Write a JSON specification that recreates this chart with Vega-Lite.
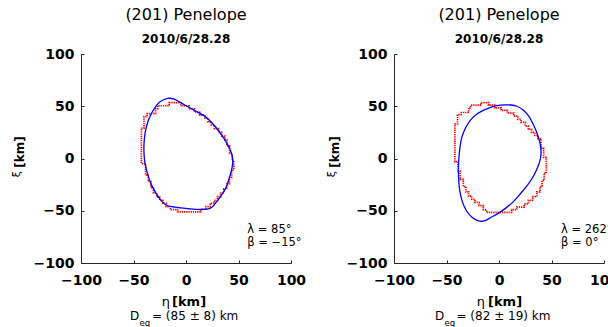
{
  "$schema": "https://vega.github.io/schema/vega-lite/v6.json",
  "background": "white",
  "padding": {"left": 10, "top": 6, "right": 0, "bottom": 0},
  "autosize": {"type": "pad"},
  "config": {
    "font": "DejaVu Sans",
    "view": {"stroke": null},
    "axis": {
      "grid": false,
      "domainColor": "#262626",
      "domainWidth": 1,
      "tickColor": "#262626",
      "tickWidth": 1,
      "tickSize": -3,
      "labelFont": "DejaVu Sans",
      "labelFontSize": 14,
      "labelFontWeight": "bold",
      "labelColor": "#000000",
      "labelOverlap": false
    },
    "title": {
      "font": "DejaVu Sans",
      "fontSize": 16,
      "fontWeight": "normal",
      "color": "#000000",
      "subtitleFont": "DejaVu Sans",
      "subtitleFontSize": 12,
      "subtitleFontWeight": "bold",
      "subtitleColor": "#000000",
      "subtitlePadding": 11,
      "offset": 2.5,
      "anchor": "middle"
    },
    "text": {"font": "DejaVu Sans", "color": "#000000"}
  },
  "datasets": {
    "fit": [
      {"p": 1, "i": 0, "x": -17.5, "y": 57.5}, {"p": 1, "i": 1, "x": -12, "y": 57}, {"p": 1, "i": 2, "x": -6, "y": 54},
      {"p": 1, "i": 3, "x": 0, "y": 50.5}, {"p": 1, "i": 4, "x": 8, "y": 46}, {"p": 1, "i": 5, "x": 17, "y": 41},
      {"p": 1, "i": 6, "x": 24, "y": 35}, {"p": 1, "i": 7, "x": 30, "y": 28}, {"p": 1, "i": 8, "x": 35, "y": 21},
      {"p": 1, "i": 9, "x": 39.5, "y": 13.5}, {"p": 1, "i": 10, "x": 43, "y": 6}, {"p": 1, "i": 11, "x": 44.5, "y": -1},
      {"p": 1, "i": 12, "x": 44, "y": -8}, {"p": 1, "i": 13, "x": 41.5, "y": -18}, {"p": 1, "i": 14, "x": 38, "y": -28},
      {"p": 1, "i": 15, "x": 33.5, "y": -35.5}, {"p": 1, "i": 16, "x": 29, "y": -41.5}, {"p": 1, "i": 17, "x": 25, "y": -46.5},
      {"p": 1, "i": 18, "x": 20, "y": -48.5}, {"p": 1, "i": 19, "x": 10, "y": -48.7}, {"p": 1, "i": 20, "x": 0, "y": -47.8},
      {"p": 1, "i": 21, "x": -10, "y": -46.5}, {"p": 1, "i": 22, "x": -18, "y": -45}, {"p": 1, "i": 23, "x": -23, "y": -41},
      {"p": 1, "i": 24, "x": -28, "y": -34}, {"p": 1, "i": 25, "x": -33, "y": -25}, {"p": 1, "i": 26, "x": -36.5, "y": -15},
      {"p": 1, "i": 27, "x": -39, "y": -5}, {"p": 1, "i": 28, "x": -40, "y": 5}, {"p": 1, "i": 29, "x": -40, "y": 14},
      {"p": 1, "i": 30, "x": -39, "y": 24}, {"p": 1, "i": 31, "x": -37, "y": 33}, {"p": 1, "i": 32, "x": -34, "y": 41},
      {"p": 1, "i": 33, "x": -30, "y": 48}, {"p": 1, "i": 34, "x": -25, "y": 54},
      {"p": 2, "i": 0, "x": -2, "y": 50.5}, {"p": 2, "i": 1, "x": 5, "y": 51.3}, {"p": 2, "i": 2, "x": 11, "y": 51.2},
      {"p": 2, "i": 3, "x": 17, "y": 50}, {"p": 2, "i": 4, "x": 23, "y": 46.5}, {"p": 2, "i": 5, "x": 28, "y": 41},
      {"p": 2, "i": 6, "x": 32, "y": 34}, {"p": 2, "i": 7, "x": 35.5, "y": 26}, {"p": 2, "i": 8, "x": 38.5, "y": 17},
      {"p": 2, "i": 9, "x": 40, "y": 8}, {"p": 2, "i": 10, "x": 39.5, "y": 0}, {"p": 2, "i": 11, "x": 37, "y": -8},
      {"p": 2, "i": 12, "x": 33, "y": -16.5}, {"p": 2, "i": 13, "x": 27.5, "y": -25}, {"p": 2, "i": 14, "x": 21, "y": -33},
      {"p": 2, "i": 15, "x": 14, "y": -41}, {"p": 2, "i": 16, "x": 7, "y": -47}, {"p": 2, "i": 17, "x": 0, "y": -52},
      {"p": 2, "i": 18, "x": -7, "y": -56}, {"p": 2, "i": 19, "x": -14, "y": -59.7}, {"p": 2, "i": 20, "x": -20, "y": -59.5},
      {"p": 2, "i": 21, "x": -26, "y": -56}, {"p": 2, "i": 22, "x": -31, "y": -50}, {"p": 2, "i": 23, "x": -35, "y": -41},
      {"p": 2, "i": 24, "x": -37.5, "y": -30}, {"p": 2, "i": 25, "x": -38.5, "y": -18}, {"p": 2, "i": 26, "x": -38.5, "y": -5},
      {"p": 2, "i": 27, "x": -37.5, "y": 8}, {"p": 2, "i": 28, "x": -35.5, "y": 20}, {"p": 2, "i": 29, "x": -32, "y": 29},
      {"p": 2, "i": 30, "x": -27, "y": 37}, {"p": 2, "i": 31, "x": -21, "y": 42.5}, {"p": 2, "i": 32, "x": -14, "y": 46.5},
      {"p": 2, "i": 33, "x": -8, "y": 49}
    ],
    "occ": [
      {"p": 1, "i": 0, "x": -16, "y": 53.5}, {"p": 1, "i": 1, "x": -5, "y": 53.5}, {"p": 1, "i": 2, "x": -5, "y": 50.5},
      {"p": 1, "i": 3, "x": 3, "y": 50.5}, {"p": 1, "i": 4, "x": 3, "y": 47.5}, {"p": 1, "i": 5, "x": 8, "y": 47.5},
      {"p": 1, "i": 6, "x": 8, "y": 44.5}, {"p": 1, "i": 7, "x": 13, "y": 44.5}, {"p": 1, "i": 8, "x": 13, "y": 41.5},
      {"p": 1, "i": 9, "x": 18, "y": 41.5}, {"p": 1, "i": 10, "x": 18, "y": 38.5}, {"p": 1, "i": 11, "x": 21, "y": 38.5},
      {"p": 1, "i": 12, "x": 21, "y": 35}, {"p": 1, "i": 13, "x": 24, "y": 35}, {"p": 1, "i": 14, "x": 24, "y": 32},
      {"p": 1, "i": 15, "x": 27, "y": 32}, {"p": 1, "i": 16, "x": 27, "y": 28.5}, {"p": 1, "i": 17, "x": 31, "y": 28.5},
      {"p": 1, "i": 18, "x": 31, "y": 25}, {"p": 1, "i": 19, "x": 34, "y": 25}, {"p": 1, "i": 20, "x": 34, "y": 21.5},
      {"p": 1, "i": 21, "x": 37, "y": 21.5}, {"p": 1, "i": 22, "x": 37, "y": 18}, {"p": 1, "i": 23, "x": 39, "y": 18},
      {"p": 1, "i": 24, "x": 39, "y": 12}, {"p": 1, "i": 25, "x": 41.5, "y": 12}, {"p": 1, "i": 26, "x": 41.5, "y": 5},
      {"p": 1, "i": 27, "x": 44, "y": 5}, {"p": 1, "i": 28, "x": 44, "y": -2}, {"p": 1, "i": 29, "x": 45.5, "y": -2},
      {"p": 1, "i": 30, "x": 45.5, "y": -11}, {"p": 1, "i": 31, "x": 43.5, "y": -11}, {"p": 1, "i": 32, "x": 43.5, "y": -18},
      {"p": 1, "i": 33, "x": 41.5, "y": -18}, {"p": 1, "i": 34, "x": 41.5, "y": -24}, {"p": 1, "i": 35, "x": 39, "y": -24},
      {"p": 1, "i": 36, "x": 39, "y": -29}, {"p": 1, "i": 37, "x": 36, "y": -29}, {"p": 1, "i": 38, "x": 36, "y": -33},
      {"p": 1, "i": 39, "x": 33, "y": -33}, {"p": 1, "i": 40, "x": 33, "y": -36.5}, {"p": 1, "i": 41, "x": 30, "y": -36.5},
      {"p": 1, "i": 42, "x": 30, "y": -40}, {"p": 1, "i": 43, "x": 27, "y": -40}, {"p": 1, "i": 44, "x": 27, "y": -43},
      {"p": 1, "i": 45, "x": 23, "y": -43}, {"p": 1, "i": 46, "x": 23, "y": -46}, {"p": 1, "i": 47, "x": 19, "y": -46},
      {"p": 1, "i": 48, "x": 19, "y": -48.5}, {"p": 1, "i": 49, "x": 14, "y": -48.5}, {"p": 1, "i": 50, "x": 14, "y": -51},
      {"p": 1, "i": 51, "x": -8, "y": -51}, {"p": 1, "i": 52, "x": -8, "y": -49}, {"p": 1, "i": 53, "x": -15, "y": -49},
      {"p": 1, "i": 54, "x": -15, "y": -46}, {"p": 1, "i": 55, "x": -19, "y": -46}, {"p": 1, "i": 56, "x": -19, "y": -43},
      {"p": 1, "i": 57, "x": -22, "y": -43}, {"p": 1, "i": 58, "x": -22, "y": -40}, {"p": 1, "i": 59, "x": -25, "y": -40},
      {"p": 1, "i": 60, "x": -25, "y": -37}, {"p": 1, "i": 61, "x": -28, "y": -37}, {"p": 1, "i": 62, "x": -28, "y": -33},
      {"p": 1, "i": 63, "x": -31, "y": -33}, {"p": 1, "i": 64, "x": -31, "y": -28}, {"p": 1, "i": 65, "x": -33.5, "y": -28},
      {"p": 1, "i": 66, "x": -33.5, "y": -22}, {"p": 1, "i": 67, "x": -36, "y": -22}, {"p": 1, "i": 68, "x": -36, "y": -16},
      {"p": 1, "i": 69, "x": -38.5, "y": -16}, {"p": 1, "i": 70, "x": -38.5, "y": -5}, {"p": 1, "i": 71, "x": -42.5, "y": -5},
      {"p": 1, "i": 72, "x": -42.5, "y": 29}, {"p": 1, "i": 73, "x": -40, "y": 29}, {"p": 1, "i": 74, "x": -40, "y": 40},
      {"p": 1, "i": 75, "x": -37, "y": 40}, {"p": 1, "i": 76, "x": -37, "y": 43}, {"p": 1, "i": 77, "x": -29, "y": 43},
      {"p": 1, "i": 78, "x": -29, "y": 47.5}, {"p": 1, "i": 79, "x": -27, "y": 47.5}, {"p": 1, "i": 80, "x": -27, "y": 50.5},
      {"p": 1, "i": 81, "x": -16, "y": 50.5},
      {"p": 2, "i": 0, "x": -17, "y": 53.5}, {"p": 2, "i": 1, "x": -10, "y": 53.5}, {"p": 2, "i": 2, "x": -10, "y": 51},
      {"p": 2, "i": 3, "x": -4, "y": 51}, {"p": 2, "i": 4, "x": -4, "y": 48.5}, {"p": 2, "i": 5, "x": 2, "y": 48.5},
      {"p": 2, "i": 6, "x": 2, "y": 46}, {"p": 2, "i": 7, "x": 8, "y": 46}, {"p": 2, "i": 8, "x": 8, "y": 43.5},
      {"p": 2, "i": 9, "x": 14, "y": 43.5}, {"p": 2, "i": 10, "x": 14, "y": 40.5}, {"p": 2, "i": 11, "x": 18, "y": 40.5},
      {"p": 2, "i": 12, "x": 18, "y": 37.5}, {"p": 2, "i": 13, "x": 21, "y": 37.5}, {"p": 2, "i": 14, "x": 21, "y": 34.5},
      {"p": 2, "i": 15, "x": 25, "y": 34.5}, {"p": 2, "i": 16, "x": 25, "y": 31}, {"p": 2, "i": 17, "x": 28, "y": 31},
      {"p": 2, "i": 18, "x": 28, "y": 28}, {"p": 2, "i": 19, "x": 31, "y": 28}, {"p": 2, "i": 20, "x": 31, "y": 25},
      {"p": 2, "i": 21, "x": 34, "y": 25}, {"p": 2, "i": 22, "x": 34, "y": 22}, {"p": 2, "i": 23, "x": 37, "y": 22},
      {"p": 2, "i": 24, "x": 37, "y": 19}, {"p": 2, "i": 25, "x": 40, "y": 19}, {"p": 2, "i": 26, "x": 40, "y": 10},
      {"p": 2, "i": 27, "x": 42.5, "y": 10}, {"p": 2, "i": 28, "x": 42.5, "y": 1}, {"p": 2, "i": 29, "x": 45, "y": 1},
      {"p": 2, "i": 30, "x": 45, "y": -14}, {"p": 2, "i": 31, "x": 43, "y": -14}, {"p": 2, "i": 32, "x": 43, "y": -21},
      {"p": 2, "i": 33, "x": 41, "y": -21}, {"p": 2, "i": 34, "x": 41, "y": -27}, {"p": 2, "i": 35, "x": 39, "y": -27},
      {"p": 2, "i": 36, "x": 39, "y": -32}, {"p": 2, "i": 37, "x": 36, "y": -32}, {"p": 2, "i": 38, "x": 36, "y": -36.5},
      {"p": 2, "i": 39, "x": 32, "y": -36.5}, {"p": 2, "i": 40, "x": 32, "y": -40}, {"p": 2, "i": 41, "x": 28, "y": -40},
      {"p": 2, "i": 42, "x": 28, "y": -43.5}, {"p": 2, "i": 43, "x": 24, "y": -43.5}, {"p": 2, "i": 44, "x": 24, "y": -46.5},
      {"p": 2, "i": 45, "x": 17, "y": -46.5}, {"p": 2, "i": 46, "x": 17, "y": -49}, {"p": 2, "i": 47, "x": 12, "y": -49},
      {"p": 2, "i": 48, "x": 12, "y": -51.5}, {"p": 2, "i": 49, "x": -12, "y": -51.5}, {"p": 2, "i": 50, "x": -12, "y": -49},
      {"p": 2, "i": 51, "x": -15, "y": -49}, {"p": 2, "i": 52, "x": -15, "y": -45}, {"p": 2, "i": 53, "x": -19, "y": -45},
      {"p": 2, "i": 54, "x": -19, "y": -42}, {"p": 2, "i": 55, "x": -23, "y": -42}, {"p": 2, "i": 56, "x": -23, "y": -39},
      {"p": 2, "i": 57, "x": -26, "y": -39}, {"p": 2, "i": 58, "x": -26, "y": -36}, {"p": 2, "i": 59, "x": -29, "y": -36},
      {"p": 2, "i": 60, "x": -29, "y": -32}, {"p": 2, "i": 61, "x": -31.5, "y": -32}, {"p": 2, "i": 62, "x": -31.5, "y": -27},
      {"p": 2, "i": 63, "x": -34, "y": -27}, {"p": 2, "i": 64, "x": -34, "y": -20}, {"p": 2, "i": 65, "x": -37, "y": -20},
      {"p": 2, "i": 66, "x": -37, "y": -12}, {"p": 2, "i": 67, "x": -39, "y": -12}, {"p": 2, "i": 68, "x": -39, "y": -3},
      {"p": 2, "i": 69, "x": -42, "y": -3}, {"p": 2, "i": 70, "x": -42, "y": 33}, {"p": 2, "i": 71, "x": -39.5, "y": 33},
      {"p": 2, "i": 72, "x": -39.5, "y": 42}, {"p": 2, "i": 73, "x": -36, "y": 42}, {"p": 2, "i": 74, "x": -36, "y": 44},
      {"p": 2, "i": 75, "x": -29, "y": 44}, {"p": 2, "i": 76, "x": -29, "y": 48.5}, {"p": 2, "i": 77, "x": -27, "y": 48.5},
      {"p": 2, "i": 78, "x": -27, "y": 51}, {"p": 2, "i": 79, "x": -17, "y": 51}
    ]
  },
  "bounds": "flush",
  "spacing": 103,
  "hconcat": [
    {
      "width": 210,
      "height": 209,
      "title": {"text": "(201) Penelope", "subtitle": "2010/6/28.28"},
      "layer": [
        {
          "data": {"name": "occ"},
          "transform": [{"filter": "datum.p == 1"}],
          "mark": {"type": "line", "interpolate": "linear-closed", "color": "#ff0000", "strokeWidth": 1.7, "strokeDash": [1.3, 0.9], "strokeCap": "butt"},
          "encoding": {
            "x": {"field": "x", "type": "quantitative", "scale": {"domain": [-100, 100], "nice": false},
                  "axis": {"values": [-100, -50, 0, 50, 100], "title": null, "labelFlush": false, "labelPadding": 13}},
            "y": {"field": "y", "type": "quantitative", "scale": {"domain": [-100, 100], "nice": false},
                  "axis": {"values": [-100, -50, 0, 50, 100], "title": null, "labelPadding": 10}},
            "order": {"field": "i", "type": "quantitative"}
          }
        },
        {
          "data": {"name": "fit"},
          "transform": [{"filter": "datum.p == 1"}],
          "mark": {"type": "line", "interpolate": "cardinal-closed", "color": "#0000ff", "strokeWidth": 1.3},
          "encoding": {
            "x": {"field": "x", "type": "quantitative", "title": null},
            "y": {"field": "y", "type": "quantitative", "title": null},
            "order": {"field": "i", "type": "quantitative"}
          }
        },
        {
          "data": {"values": [{}]},
          "mark": {"type": "text", "text": "λ = 85°", "align": "left", "baseline": "alphabetic", "fontSize": 11.5},
          "encoding": {"x": {"datum": 58.4, "title": null}, "y": {"datum": -71.2, "title": null}}
        },
        {
          "data": {"values": [{}]},
          "mark": {"type": "text", "text": "β = −15°", "align": "left", "baseline": "alphabetic", "fontSize": 11.5},
          "encoding": {"x": {"datum": 58.4, "title": null}, "y": {"datum": -83.5, "title": null}}
        },
        {
          "data": {"values": [{}]},
          "mark": {"type": "text", "text": "η", "align": "right", "baseline": "alphabetic", "fontSize": 13, "dx": -16},
          "encoding": {"x": {"datum": 0, "title": null}, "y": {"datum": -141.6, "title": null}}
        },
        {
          "data": {"values": [{}]},
          "mark": {"type": "text", "text": "[km]", "align": "left", "baseline": "alphabetic", "fontSize": 13, "fontWeight": "bold", "dx": -14},
          "encoding": {"x": {"datum": 0, "title": null}, "y": {"datum": -141.6, "title": null}}
        },
        {
          "data": {"values": [{}]},
          "mark": {"type": "text", "text": "D", "align": "left", "baseline": "alphabetic", "fontSize": 12, "dx": -56},
          "encoding": {"x": {"datum": 0, "title": null}, "y": {"datum": -154.2, "title": null}}
        },
        {
          "data": {"values": [{}]},
          "mark": {"type": "text", "text": "eq", "align": "left", "baseline": "alphabetic", "fontSize": 8.5, "dx": -46.5},
          "encoding": {"x": {"datum": 0, "title": null}, "y": {"datum": -160, "title": null}}
        },
        {
          "data": {"values": [{}]},
          "mark": {"type": "text", "text": "= (85 ± 8) km", "align": "left", "baseline": "alphabetic", "fontSize": 12, "dx": -34},
          "encoding": {"x": {"datum": 0, "title": null}, "y": {"datum": -154.2, "title": null}}
        },
        {
          "data": {"values": [{}]},
          "mark": {"type": "text", "text": "[km]", "angle": 270, "align": "left", "baseline": "middle", "fontSize": 12, "fontWeight": "bold"},
          "encoding": {"x": {"datum": -158.5, "title": null}, "y": {"datum": -8.8, "title": null}}
        },
        {
          "data": {"values": [{}]},
          "mark": {"type": "text", "text": "ξ", "angle": 270, "align": "right", "baseline": "middle", "fontSize": 11},
          "encoding": {"x": {"datum": -161, "title": null}, "y": {"datum": -12, "title": null}}
        }
      ]
    },
    {
      "width": 210,
      "height": 209,
      "title": {"text": "(201) Penelope", "subtitle": "2010/6/28.28"},
      "layer": [
        {
          "data": {"name": "occ"},
          "transform": [{"filter": "datum.p == 2"}],
          "mark": {"type": "line", "interpolate": "linear-closed", "color": "#ff0000", "strokeWidth": 1.7, "strokeDash": [1.3, 0.9], "strokeCap": "butt"},
          "encoding": {
            "x": {"field": "x", "type": "quantitative", "scale": {"domain": [-100, 100], "nice": false},
                  "axis": {"values": [-100, -50, 0, 50, 100], "title": null, "labelFlush": false, "labelPadding": 13}},
            "y": {"field": "y", "type": "quantitative", "scale": {"domain": [-100, 100], "nice": false},
                  "axis": {"values": [-100, -50, 0, 50, 100], "title": null, "labelPadding": 10}},
            "order": {"field": "i", "type": "quantitative"}
          }
        },
        {
          "data": {"name": "fit"},
          "transform": [{"filter": "datum.p == 2"}],
          "mark": {"type": "line", "interpolate": "cardinal-closed", "color": "#0000ff", "strokeWidth": 1.3},
          "encoding": {
            "x": {"field": "x", "type": "quantitative", "title": null},
            "y": {"field": "y", "type": "quantitative", "title": null},
            "order": {"field": "i", "type": "quantitative"}
          }
        },
        {
          "data": {"values": [{}]},
          "mark": {"type": "text", "text": "λ = 262°", "align": "left", "baseline": "alphabetic", "fontSize": 11.5},
          "encoding": {"x": {"datum": 59.1, "title": null}, "y": {"datum": -71.2, "title": null}}
        },
        {
          "data": {"values": [{}]},
          "mark": {"type": "text", "text": "β = 0°", "align": "left", "baseline": "alphabetic", "fontSize": 11.5},
          "encoding": {"x": {"datum": 59.1, "title": null}, "y": {"datum": -83.5, "title": null}}
        },
        {
          "data": {"values": [{}]},
          "mark": {"type": "text", "text": "η", "align": "right", "baseline": "alphabetic", "fontSize": 13, "dx": -14},
          "encoding": {"x": {"datum": 0, "title": null}, "y": {"datum": -141.6, "title": null}}
        },
        {
          "data": {"values": [{}]},
          "mark": {"type": "text", "text": "[km]", "align": "left", "baseline": "alphabetic", "fontSize": 13, "fontWeight": "bold", "dx": -11},
          "encoding": {"x": {"datum": 0, "title": null}, "y": {"datum": -141.6, "title": null}}
        },
        {
          "data": {"values": [{}]},
          "mark": {"type": "text", "text": "D", "align": "left", "baseline": "alphabetic", "fontSize": 12, "dx": -64},
          "encoding": {"x": {"datum": 0, "title": null}, "y": {"datum": -154.2, "title": null}}
        },
        {
          "data": {"values": [{}]},
          "mark": {"type": "text", "text": "eq", "align": "left", "baseline": "alphabetic", "fontSize": 8.5, "dx": -54.5},
          "encoding": {"x": {"datum": 0, "title": null}, "y": {"datum": -160, "title": null}}
        },
        {
          "data": {"values": [{}]},
          "mark": {"type": "text", "text": "= (82 ± 19) km", "align": "left", "baseline": "alphabetic", "fontSize": 12, "dx": -42.5},
          "encoding": {"x": {"datum": 0, "title": null}, "y": {"datum": -154.2, "title": null}}
        },
        {
          "data": {"values": [{}]},
          "mark": {"type": "text", "text": "[km]", "angle": 270, "align": "left", "baseline": "middle", "fontSize": 12, "fontWeight": "bold"},
          "encoding": {"x": {"datum": -156.5, "title": null}, "y": {"datum": -8.8, "title": null}}
        },
        {
          "data": {"values": [{}]},
          "mark": {"type": "text", "text": "ξ", "angle": 270, "align": "right", "baseline": "middle", "fontSize": 11},
          "encoding": {"x": {"datum": -159, "title": null}, "y": {"datum": -12, "title": null}}
        }
      ]
    }
  ]
}
